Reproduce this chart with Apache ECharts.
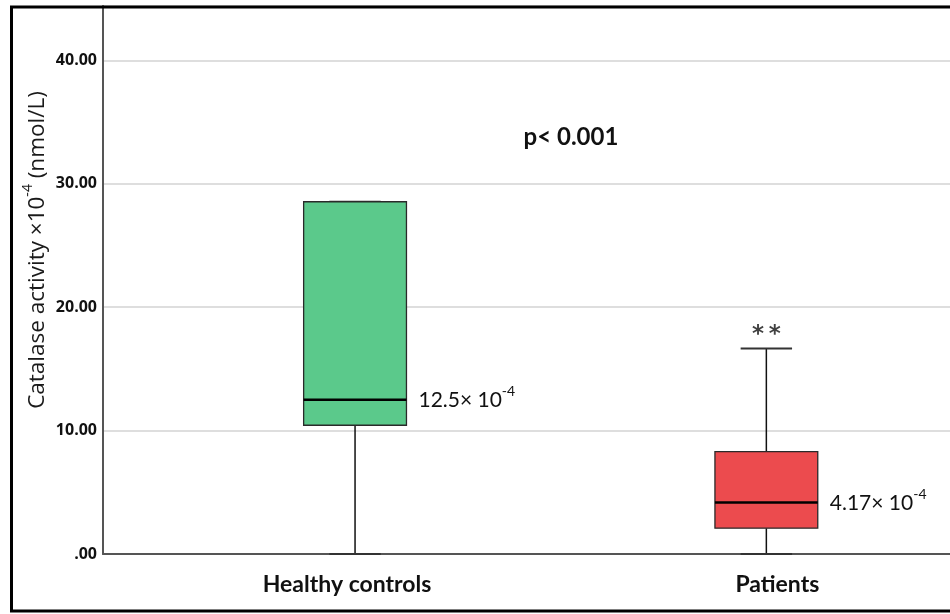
<!DOCTYPE html>
<html>
<head>
<meta charset="utf-8">
<title>Catalase activity</title>
<script src="https://cdn.jsdelivr.net/npm/echarts@6/dist/echarts.min.js"></script>
<style>
  html, body { margin: 0; padding: 0; background: #ffffff; }
  #chart { width: 950px; height: 614px; }
</style>
</head>
<body>
<div id="chart"></div>
<script>
// Groups and five-number summaries (×10^-4 nmol/L)
const categories = ['Healthy controls', 'Patients'];
const minValues = [0, 0];
const q1Values = [10.43, 2.09];
const medianValues = [12.5, 4.17];
const q3Values = [28.54, 8.30];
const maxValues = [28.54, 16.64];
// Extreme cases, shown with asterisks: [group index, value]
const extremeCases = [[1, 18.2]];

// Y axis ticks and the labels printed for them
const yTicks = [0, 10, 20, 30, 40];
const yTickLabels = ['.00', '10.00', '20.00', '30.00', '40.00'];
const yMax = 44.4;

const pValueText = 'p< 0.001';

// Styling
const boxColors = ['#5bc98b', '#ec4b4e'];
const axisColor = '#555555';
const gridColor = '#d3d3d3';

const chart = echarts.init(document.getElementById('chart'), null, { renderer: 'canvas' });

const boxData = categories.map((c, i) => [i, minValues[i], q1Values[i], medianValues[i], q3Values[i], maxValues[i]]);

function renderBox(params, api) {
  const idx = api.value(0);
  const yOf = v => api.coord([idx, v])[1];
  const cx = api.coord([idx, api.value(3)])[0];
  const band = api.size([1, 0])[0];
  const hw = band * 0.125;     // half of box width
  const capHw = hw / 2;        // whisker caps are half the box width
  const yMin = yOf(api.value(1));
  const yQ1 = yOf(api.value(2));
  const yMed = yOf(api.value(3));
  const yQ3 = yOf(api.value(4));
  const yMaxW = yOf(api.value(5));
  const whisker = { stroke: '#111', lineWidth: 1.5 };
  const med = medianValues[idx];
  return {
    type: 'group',
    children: [
      { type: 'line', shape: { x1: cx, y1: yQ1, x2: cx, y2: yMin }, style: whisker },
      { type: 'line', shape: { x1: cx, y1: yQ3, x2: cx, y2: yMaxW }, style: whisker },
      { type: 'line', shape: { x1: cx - capHw, y1: yMaxW, x2: cx + capHw, y2: yMaxW }, style: { stroke: '#333', lineWidth: 2 } },
      { type: 'line', shape: { x1: cx - capHw, y1: yMin, x2: cx + capHw, y2: yMin }, style: { stroke: '#333', lineWidth: 2 } },
      {
        type: 'rect',
        shape: { x: cx - hw, y: yQ3, width: hw * 2, height: yQ1 - yQ3 },
        style: { fill: boxColors[idx], stroke: '#2a2a2a', lineWidth: 1.3 }
      },
      { type: 'line', shape: { x1: cx - hw, y1: yMed, x2: cx + hw, y2: yMed }, style: { stroke: '#000', lineWidth: 2.5 } },
      {
        type: 'text',
        x: cx + hw + 12,
        y: yMed - 2,
        style: {
          text: '{m|' + med + '× 10}{s|-4}',
          verticalAlign: 'middle',
          align: 'left',
          rich: {
            m: { fontFamily: 'Lato', fontSize: 21, fill: '#111', lineHeight: 26, verticalAlign: 'bottom' },
            s: { fontFamily: 'Lato', fontSize: 14, fill: '#111', lineHeight: 26, verticalAlign: 'top' }
          }
        }
      }
    ]
  };
}

const catLabelFont = { fontFamily: 'Lato', fontWeight: 'bold', fontSize: 23, color: '#111' };

const option = {
  animation: false,
  backgroundColor: '#ffffff',
  grid: [
    { left: 103, right: 0, top: 6, bottom: 60, outerBoundsMode: 'none' },
    { left: 149.4, width: 822.6, top: 6, bottom: 60, outerBoundsMode: 'none' }
  ],
  xAxis: [
    {
      type: 'value', gridIndex: 0, min: 0, max: 1,
      axisLine: { show: true, onZero: false, lineStyle: { color: axisColor, width: 2 } },
      axisTick: { show: false }, axisLabel: { show: false }, splitLine: { show: false }
    },
    {
      type: 'category', gridIndex: 1, data: categories,
      axisLine: { show: false }, axisTick: { show: false }, splitLine: { show: false },
      axisLabel: {
        margin: 19,
        formatter: (v, i) => '{' + (i === 0 ? 'a' : 'b') + '|' + v + '}',
        rich: {
          a: Object.assign({ padding: [0, 16, 0, 0] }, catLabelFont),
          b: Object.assign({ padding: [0, 0, 0, 22] }, catLabelFont)
        }
      }
    }
  ],
  yAxis: [
    {
      type: 'value', gridIndex: 0, min: 0, max: yMax, interval: 10,
      axisLine: { show: true, lineStyle: { color: axisColor, width: 2 } },
      axisTick: { show: false },
      splitLine: { show: true, lineStyle: { color: gridColor, width: 1.5 } },
      axisLabel: {
        margin: 6, showMaxLabel: false,
        fontFamily: 'Open Sans', fontWeight: 'bold', fontSize: 16, color: '#111',
        formatter: v => { const k = yTicks.indexOf(v); return k >= 0 ? yTickLabels[k] : ''; }
      }
    },
    { type: 'value', gridIndex: 1, min: 0, max: yMax, show: false }
  ],
  series: [
    {
      type: 'custom',
      xAxisIndex: 1, yAxisIndex: 1,
      data: boxData,
      encode: { x: 0, y: [1, 2, 3, 4, 5] },
      renderItem: renderBox,
      clip: false,
      z: 3
    },
    {
      type: 'scatter',
      xAxisIndex: 1, yAxisIndex: 1,
      data: extremeCases,
      symbolSize: 2,
      itemStyle: { color: 'rgba(0,0,0,0)' },
      label: {
        show: true, position: 'inside', formatter: '*\u2009*',
        fontFamily: 'DejaVu Sans', fontWeight: 'bold', fontSize: 23, color: '#111', offset: [0, 6]
      },
      z: 4
    }
  ],
  graphic: [
    {
      type: 'text', x: 35, y: 250, rotation: Math.PI / 2,
      style: {
        text: '{t|Catalase activity ×10}{s|-4}{t| (nmol/L)}',
        align: 'center', verticalAlign: 'middle',
        rich: {
          t: { fontFamily: 'Open Sans', fontSize: 22.5, fill: '#1a1a1a', lineHeight: 28, verticalAlign: 'bottom' },
          s: { fontFamily: 'Open Sans', fontSize: 14, fill: '#1a1a1a', lineHeight: 28, verticalAlign: 'top' }
        }
      },
      z: 10
    },
    {
      type: 'text', x: 571, y: 137,
      style: {
        text: pValueText, align: 'center', verticalAlign: 'middle',
        fontFamily: 'Lato', fontWeight: 'bold', fontSize: 24, fill: '#111'
      },
      z: 10
    },
    {
      type: 'rect',
      shape: { x: 11.5, y: 7, width: 960, height: 604 },
      style: { fill: 'none', stroke: '#000', lineWidth: 3 },
      z: 20
    }
  ]
};

chart.setOption(option);
</script>
</body>
</html>
